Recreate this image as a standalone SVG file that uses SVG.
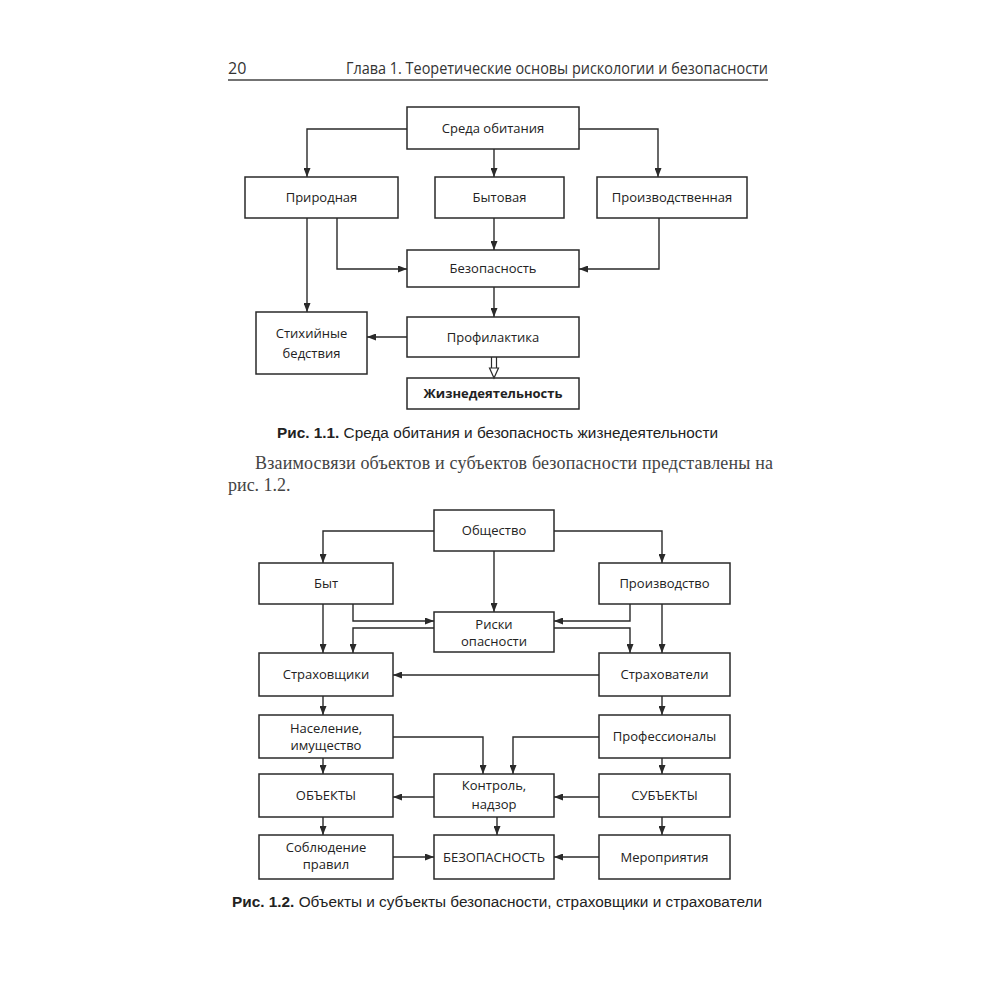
<svg xmlns="http://www.w3.org/2000/svg" width="1000" height="1000" viewBox="0 0 1000 1000">
<defs>
<marker id="ar" markerUnits="userSpaceOnUse" markerWidth="10" markerHeight="7" refX="9" refY="3.5" orient="auto">
<path d="M0,0 L9,3.5 L0,7 z" fill="#2a2a2a"/>
</marker>
</defs>
<style>
.b{fill:#fff;stroke:#2a2a2a;stroke-width:1.5}
.t{font-family:"Open Sans","Noto Sans",sans-serif;font-size:13px;fill:#222;text-anchor:middle}
.c{fill:none;stroke:#2a2a2a;stroke-width:1.4;marker-end:url(#ar)}
.cap{font-family:"Liberation Sans",Arial,sans-serif;font-size:14px;fill:#222}
.hd{font-family:"Open Sans","Noto Sans",sans-serif;font-size:16px;fill:#333}
.body{font-family:"Liberation Serif","Times New Roman",serif;font-size:18px;fill:#444}
</style>
<rect width="1000" height="1000" fill="#fff"/>

<!-- header -->
<text class="hd" x="228" y="74">20</text>
<text class="hd" x="346" y="74" textLength="422" lengthAdjust="spacingAndGlyphs">Глава 1. Теоретические основы рискологии и безопасности</text>
<line x1="228" y1="80" x2="768" y2="80" stroke="#444" stroke-width="1.5"/>

<!-- Fig 1.1 nodes -->
<g id="f1-sreda"><rect class="b" x="407" y="107" width="172" height="42"/><text class="t" x="493" y="133">Среда обитания</text></g>
<g id="f1-prirodnaya"><rect class="b" x="245" y="177" width="153" height="41"/><text class="t" x="321.5" y="202">Природная</text></g>
<g id="f1-bytovaya"><rect class="b" x="435" y="177" width="129" height="41"/><text class="t" x="499.5" y="202">Бытовая</text></g>
<g id="f1-proizv"><rect class="b" x="597" y="177" width="150" height="41"/><text class="t" x="672" y="202">Производственная</text></g>
<g id="f1-bezop"><rect class="b" x="407" y="250" width="172" height="37"/><text class="t" x="493" y="273">Безопасность</text></g>
<g id="f1-stih"><rect class="b" x="256" y="312" width="111" height="62"/><text class="t" x="311.5" y="338">Стихийные</text><text class="t" x="311.5" y="358">бедствия</text></g>
<g id="f1-profil"><rect class="b" x="407" y="317" width="172" height="40"/><text class="t" x="493" y="341.5">Профилактика</text></g>
<g id="f1-zhizn"><rect class="b" x="407" y="378" width="172" height="31"/><text class="t" x="493" y="398" font-weight="bold">Жизнедеятельность</text></g>

<!-- Fig 1.1 connectors -->
<g id="f1-connectors">
<path class="c" d="M407,129 H307 V177"/>
<path class="c" d="M579,129 H658 V177"/>
<path class="c" d="M494,149 V177"/>
<path class="c" d="M494,218 V250"/>
<path class="c" d="M337,218 V269 H407"/>
<path class="c" d="M659,218 V269 H579"/>
<path class="c" d="M307,218 V312"/>
<path class="c" d="M494,287 V317"/>
<path class="c" d="M407,337 H367"/>
<path d="M491.5,357 V368 M496.5,357 V368" fill="none" stroke="#2a2a2a" stroke-width="1.2"/>
<path d="M489.5,368 H498.5 L494,378 z" fill="#fff" stroke="#2a2a2a" stroke-width="1.2"/>
</g>

<!-- caption 1 -->
<text class="cap" x="277" y="438" textLength="441" lengthAdjust="spacingAndGlyphs"><tspan font-weight="bold">Рис. 1.1.</tspan> Среда обитания и безопасность жизнедеятельности</text>

<!-- body text -->
<text class="body" x="255" y="469" textLength="518" lengthAdjust="spacing">Взаимосвязи объектов и субъектов безопасности представлены на</text>
<text class="body" x="228" y="491">рис. 1.2.</text>

<!-- Fig 1.2 nodes -->
<g id="f2-obshestvo"><rect class="b" x="434" y="510" width="120" height="41"/><text class="t" x="494" y="535">Общество</text></g>
<g id="f2-byt"><rect class="b" x="259" y="563" width="134" height="41"/><text class="t" x="326" y="588">Быт</text></g>
<g id="f2-proizv"><rect class="b" x="599" y="563" width="131" height="41"/><text class="t" x="664.5" y="588">Производство</text></g>
<g id="f2-riski"><rect class="b" x="434" y="612" width="120" height="40"/><text class="t" x="494" y="629">Риски</text><text class="t" x="494" y="646">опасности</text></g>
<g id="f2-strahovshiki"><rect class="b" x="259" y="653" width="134" height="43"/><text class="t" x="326" y="679">Страховщики</text></g>
<g id="f2-strahovateli"><rect class="b" x="599" y="653" width="131" height="43"/><text class="t" x="664.5" y="679">Страхователи</text></g>
<g id="f2-naselenie"><rect class="b" x="259" y="715" width="134" height="43"/><text class="t" x="326" y="733">Население,</text><text class="t" x="326" y="750">имущество</text></g>
<g id="f2-profi"><rect class="b" x="599" y="715" width="131" height="43"/><text class="t" x="664.5" y="741">Профессионалы</text></g>
<g id="f2-obekty"><rect class="b" x="259" y="774" width="134" height="43"/><text class="t" x="326" y="800">ОБЪЕКТЫ</text></g>
<g id="f2-kontrol"><rect class="b" x="434" y="774" width="120" height="43"/><text class="t" x="494" y="790">Контроль,</text><text class="t" x="494" y="809">надзор</text></g>
<g id="f2-subekty"><rect class="b" x="599" y="774" width="131" height="43"/><text class="t" x="664.5" y="800">СУБЪЕКТЫ</text></g>
<g id="f2-soblyudenie"><rect class="b" x="259" y="835" width="134" height="44"/><text class="t" x="326" y="852">Соблюдение</text><text class="t" x="326" y="869">правил</text></g>
<g id="f2-bezop"><rect class="b" x="434" y="835" width="120" height="44"/><text class="t" x="494" y="861.5">БЕЗОПАСНОСТЬ</text></g>
<g id="f2-meropr"><rect class="b" x="599" y="835" width="131" height="44"/><text class="t" x="664.5" y="861.5">Мероприятия</text></g>

<!-- Fig 1.2 connectors -->
<g id="f2-connectors">
<path class="c" d="M434,531 H323 V563"/>
<path class="c" d="M554,531 H662 V563"/>
<path class="c" d="M494,551 V612"/>
<path class="c" d="M323,604 V653"/>
<path class="c" d="M353,604 V621 H434"/>
<path class="c" d="M434,628 H353 V653"/>
<path class="c" d="M630,604 V621 H554"/>
<path class="c" d="M554,628 H630 V653"/>
<path class="c" d="M662,604 V653"/>
<path class="c" d="M599,675 H393"/>
<path class="c" d="M323,696 V715"/>
<path class="c" d="M662,696 V715"/>
<path class="c" d="M393,737 H483 V774"/>
<path class="c" d="M599,737 H513 V774"/>
<path class="c" d="M323,758 V774"/>
<path class="c" d="M662,758 V774"/>
<path class="c" d="M434,797 H393"/>
<path class="c" d="M599,797 H554"/>
<path class="c" d="M323,817 V835"/>
<path class="c" d="M497,817 V835"/>
<path class="c" d="M662,817 V835"/>
<path class="c" d="M393,857 H434"/>
<path class="c" d="M599,857 H554"/>
</g>

<!-- caption 2 -->
<text class="cap" x="232" y="907" textLength="530" lengthAdjust="spacingAndGlyphs"><tspan font-weight="bold">Рис. 1.2.</tspan> Объекты и субъекты безопасности, страховщики и страхователи</text>
</svg>
